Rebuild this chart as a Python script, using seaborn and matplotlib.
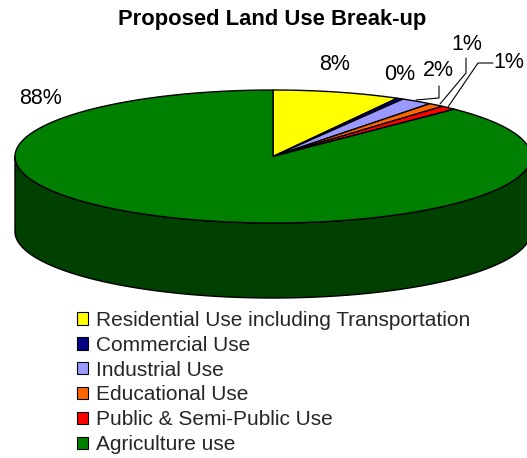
import numpy as np
import matplotlib
matplotlib.use("Agg")
import matplotlib.pyplot as plt
from matplotlib.patches import Polygon, Patch
from matplotlib.lines import Line2D
import matplotlib.colors as mcolors
import seaborn as sns

# Land use shares (percent)
categories = [
    "Residential Use including Transportation",
    "Commercial Use",
    "Industrial Use",
    "Educational Use",
    "Public & Semi-Public Use",
    "Agriculture use",
]
shares = [8.0, 0.4, 2.0, 1.0, 1.0, 87.6]
colors = ["#FFFF00", "#000080", "#9999FF", "#FF6600", "#FF0000", "#008000"]

sns.set_theme(style="white")
plt.rcParams["font.family"] = ["Liberation Sans", "DejaVu Sans"]

W, H = 527, 458
fig = plt.figure(figsize=(W / 100, H / 100), dpi=100)
ax = fig.add_axes([0, 0, 1, 1])
ax.set_xlim(0, W)
ax.set_ylim(H, 0)
ax.axis("off")

# 3D pie geometry (screen units)
cx, cy, a, b, depth = 273, 156.5, 258, 66.5, 75


def rim(theta_deg, dy=0.0):
    t = np.radians(theta_deg)
    return np.column_stack([cx + a * np.sin(t), cy - b * np.cos(t) + dy])


vals = np.array(shares, dtype=float)
frac = vals / vals.sum()
edges = np.concatenate([[0], np.cumsum(frac) * 360])

# front wall (visible between 90 and 270 degrees clockwise from top)
for i, col in enumerate(colors):
    lo, hi = max(edges[i], 90), min(edges[i + 1], 270)
    if hi <= lo:
        continue
    th = np.linspace(lo, hi, 200)
    top = rim(th)
    bot = rim(th[::-1], depth)
    dark = np.array(mcolors.to_rgb(col)) * 0.5
    ax.add_patch(Polygon(np.vstack([top, bot]), closed=True, facecolor=dark,
                         edgecolor="black", lw=1.0, joinstyle="round"))

# top face slices
for i, col in enumerate(colors):
    th = np.linspace(edges[i], edges[i + 1], max(3, int((edges[i + 1] - edges[i]) * 2)))
    pts = np.vstack([[cx, cy], rim(th)])
    ax.add_patch(Polygon(pts, closed=True, facecolor=col, edgecolor="black",
                         lw=1.0, joinstyle="round"))

# percentage labels
labels = [f"{round(v):.0f}%" for v in vals]
label_pos = [(335, 65), (400, 75), (438, 70), (467, 45), (509, 63), (40, 98)]
for txt, (x, y) in zip(labels, label_pos):
    ax.text(x, y, txt, ha="center", va="center", fontsize=15.5, color="black")

# leader lines for the narrow slices
leaders = [
    [(439, 86), (439, 98), (416, 100)],
    [(466, 58), (466, 73), (440, 104)],
    [(493, 63), (478, 63), (448, 107)],
]
for seg in leaders:
    xs, ys = zip(*seg)
    ax.add_line(Line2D(xs, ys, color="black", lw=0.8))

ax.text(272, 19, "Proposed Land Use Break-up", ha="center", va="center",
        fontsize=15.8, fontweight="bold", color="black")

handles = [Patch(facecolor=c, edgecolor="black", lw=0.8) for c in colors]
fig.legend(handles, categories, loc="upper left", bbox_to_anchor=(77 / W, 1 - 311 / H),
           frameon=False, fontsize=15, handlelength=0.53, handleheight=0.53,
           handletextpad=0.38, labelspacing=0.28, borderpad=0, borderaxespad=0)

fig.savefig("out.png", dpi=100)
